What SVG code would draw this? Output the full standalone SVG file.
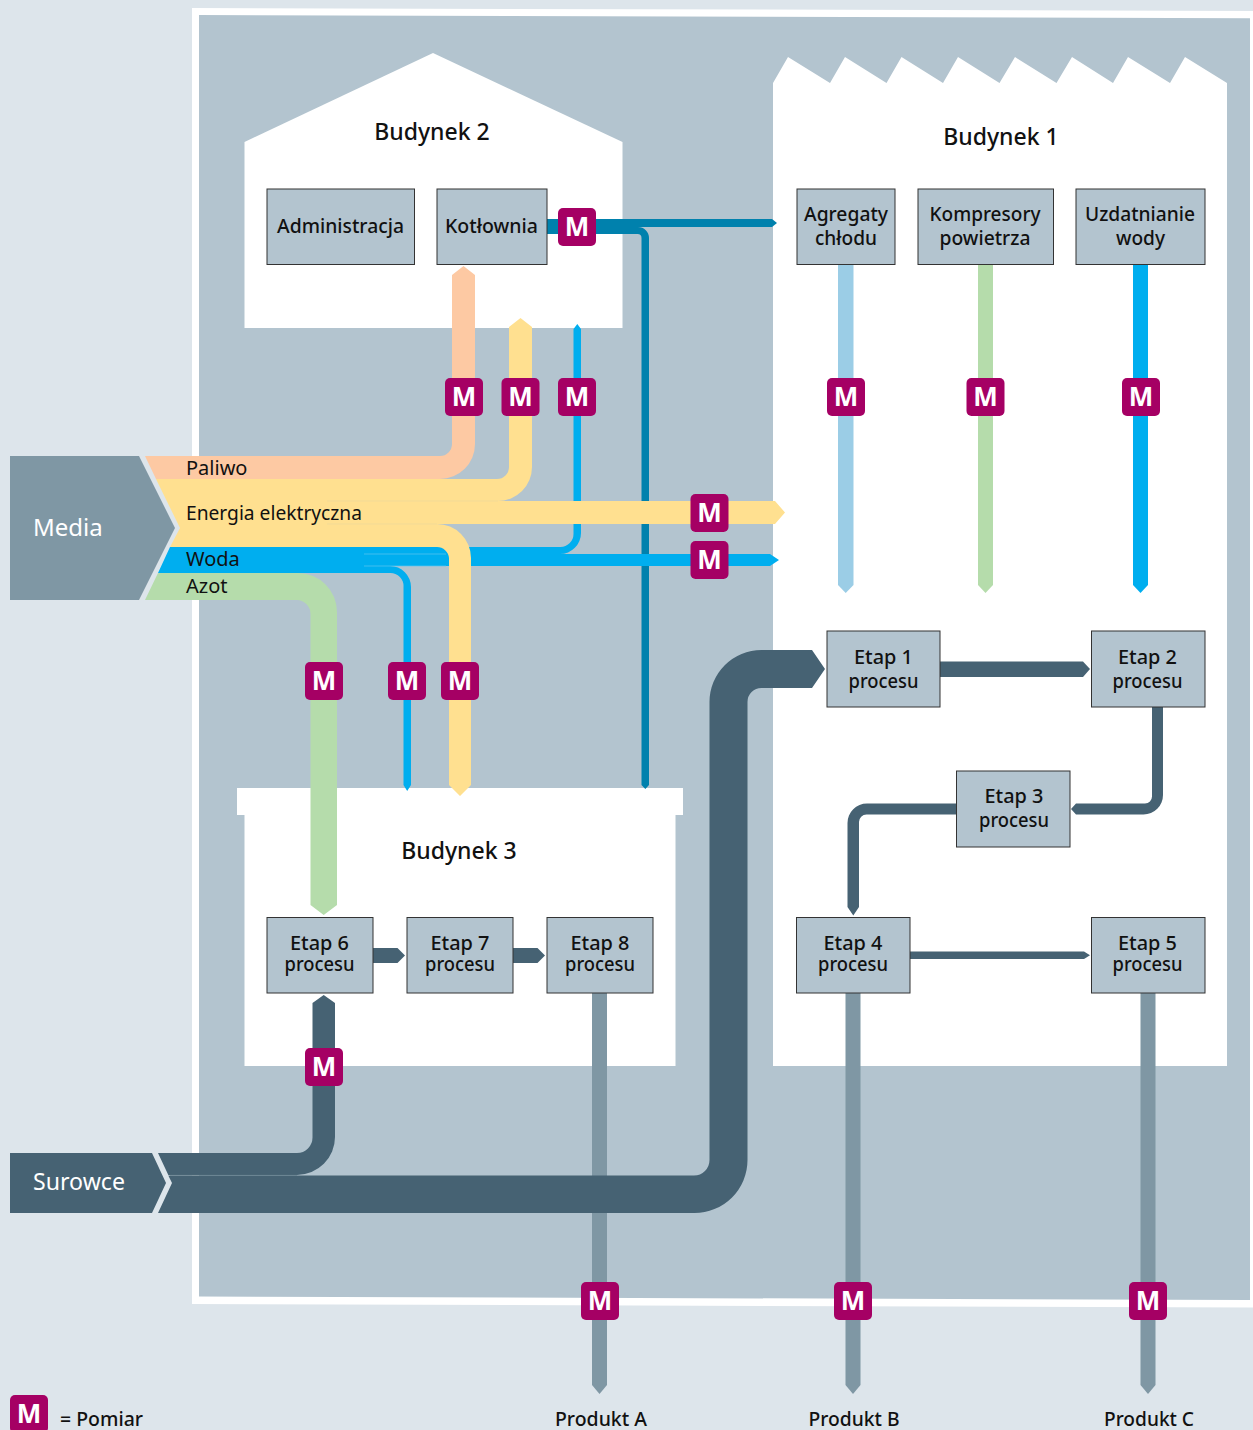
<svg xmlns="http://www.w3.org/2000/svg" width="1253" height="1430" viewBox="0 0 1253 1430">
<style>
text{font-family:"Noto Sans","Open Sans","Liberation Sans",sans-serif;fill:#111;text-anchor:middle}
.t{font-size:20px;font-weight:500}
.h{font-size:23px;font-weight:500}
.w{font-size:24px;fill:#fff;text-anchor:start}
.f{font-size:20px;text-anchor:start}
.p{font-size:19.500px;font-weight:500}
.box{fill:#b3c4cf;stroke:#333;stroke-width:1}
.bld{fill:#fff}
.bg{fill:#b3c4cf}
.m rect{fill:#a50064}
.m text{fill:#fff;font-size:26px;font-weight:700}
.dark{fill:#466273}.prod{fill:#7f97a4}.teal{fill:#0081ad}.blue{fill:#00aeef}.yel{fill:#ffe090}.pch{fill:#fdc9a3}.grn{fill:#b5dcab}.lb{fill:#9bcde6}
.seam{fill:none;stroke-width:.7}
</style>
<rect width="1253" height="1430" fill="#dde5eb"/>
<polygon points="192,8 1253,11 1253,1307.500 192,1304" fill="#fff"/>
<polygon class="bg" points="199,15 1250,18.300 1250,1300 199,1296.500"/>
<g id="buildings">
<polygon id="budynek-2-shape" class="bld" points="244.500,142 433,53 622.500,142 622.500,328 244.500,328"/>
<polygon id="budynek-1-shape" class="bld" points="773,83 788,57 830,83 845,57 886.500,83 901.500,57 943,83 958,57 999.500,83 1015,57 1056.500,83 1072,57 1113,83 1128,57 1170,83 1185,57 1227,83 1227,1066 773,1066"/>
<polygon id="budynek-3-shape" class="bld" points="237,788 683,788 683,815 675.500,815 675.500,1066 244.500,1066 244.500,815 237,815"/>
</g>
<g id="connectors">
<path class="prod" d="M592,993H607V1385L599.500,1394L592,1385Z"/>
<path class="prod" d="M845.500,993H860.500V1385L853,1394L845.500,1385Z"/>
<path class="prod" d="M1140.500,993H1155.500V1385L1148,1394L1140.500,1385Z"/>
<path class="teal" d="M547,219H772L777,223L772,227H638A11,11 0 0 1 649,238V785L645.300,789L641.500,785V238A4,4 0 0 0 637.500,234H547Z"/>
<path class="blue" d="M340,547H560A13,13 0 0 0 573.500,534V329L577.300,324L581,329V533A21,21 0 0 1 560,554H340Z"/>
<path class="blue" d="M340,566H390A21,21 0 0 1 411,587V785L407.200,791L403.500,785V587A13,13 0 0 0 390,573H340Z"/>
<path class="blue" d="M170,547H364V554H770L779,560L770,566H364V573H158Z"/>
<path class="seam" stroke="#5cc6f0" d="M364,554H446M364,566H446"/>
<path class="yel" d="M300,479H497A12,12 0 0 0 509,467V327L520.500,318L532,327V467A34,34 0 0 1 498,501H775L785,512.500L775,524H300Z"/>
<path class="yel" d="M156,479H330V547H170L180,528Z"/>
<path class="yel" d="M300,524H437A34,34 0 0 1 471,558V785L460,796L449,785V558A12,12 0 0 0 437,547H300Z"/>
<path class="seam" stroke="#ecd79c" d="M327,501H498M327,524H437"/>
<path class="pch" d="M145,456H440A12,12 0 0 0 452,444V275L463.500,266L475,275V444A35,35 0 0 1 440,479H156Z"/>
<path class="grn" d="M158,573H298A39,39 0 0 1 337,612V905L323.700,915L310.500,905V614A14,14 0 0 0 297,600H145Z"/>
<path class="lb" d="M838,264H853.500V585L845.700,593L838,585Z"/>
<path class="grn" d="M978,264H993V585L985.500,593L978,585Z"/>
<path class="blue" d="M1133,264H1148V585L1140.500,593L1133,585Z"/>
<path class="dark" d="M158,1153H297A15.500,15.500 0 0 0 312.500,1137.500V1003L323.700,995L335,1003V1137A38,38 0 0 1 297,1175H168.300Z"/>
<path class="dark" d="M168.300,1175.500H694A15.500,15.500 0 0 0 709.500,1160V702A52,52 0 0 1 761.500,650H812L825,669L812,688H761.500A14,14 0 0 0 747.500,702V1160A53,53 0 0 1 694,1213H158L172,1183Z"/>
<path class="seam" stroke="#5d7a8a" d="M170,1175.300H297"/>
<path class="dark" d="M940,661.500H1083L1090,669L1083,677H940Z"/>
<path class="dark" d="M1152,707H1163V795A19.500,19.500 0 0 1 1143.500,814.500H1076L1071,809L1076,803.500H1145A7,7 0 0 0 1152,796.500Z"/>
<path class="dark" d="M956,803.500H867A19.500,19.500 0 0 0 847.500,823V907L853.300,915.500L859,907V822A7.500,7.500 0 0 1 866.500,814.500H956Z"/>
<path class="dark" d="M910,951.500H1084L1090,955.200L1084,959H910Z"/>
<path class="dark" d="M373,948H397.500L405,955.500L397.500,963H373Z"/>
<path class="dark" d="M513,948H537.500L545,955.500L537.500,963H513Z"/>
</g>
<g id="media"><polygon points="10,456 139,456 175,528 139,600 10,600" fill="#7f97a4"/><text class="w" x="33" y="536">Media</text></g>
<g id="surowce"><polygon class="dark" points="10,1153 152,1153 166,1183 152,1213 10,1213"/><text class="w" x="33" y="1190" textLength="92" lengthAdjust="spacingAndGlyphs">Surowce</text></g>
<g id="flow-labels">
<text class="f" x="186" y="475">Paliwo</text>
<text class="f" x="186" y="520" textLength="176" lengthAdjust="spacingAndGlyphs">Energia elektryczna</text>
<text class="f" x="186" y="566">Woda</text>
<text class="f" x="186" y="593">Azot</text>
</g>
<g id="budynek-2"><text class="h" x="432" y="140">Budynek 2</text></g>
<g id="budynek-1"><text class="h" x="1001" y="145">Budynek 1</text></g>
<g id="budynek-3"><text class="h" x="459" y="859">Budynek 3</text></g>
<g id="administracja"><rect class="box" x="267" y="189" width="147.500" height="75.500"/><text class="t" x="340.500" y="233" textLength="127" lengthAdjust="spacingAndGlyphs">Administracja</text></g>
<g id="kotlownia"><rect class="box" x="437" y="189" width="110" height="75.500"/><text class="t" x="491.500" y="233" textLength="93" lengthAdjust="spacingAndGlyphs">Kotłownia</text></g>
<g id="agregaty"><rect class="box" x="797" y="189" width="98" height="75.500"/><text class="t" x="846" y="221" textLength="84" lengthAdjust="spacingAndGlyphs">Agregaty</text><text class="t" x="846" y="245" textLength="62" lengthAdjust="spacingAndGlyphs">chłodu</text></g>
<g id="kompresory"><rect class="box" x="918" y="189" width="135.500" height="75.500"/><text class="t" x="985" y="221" textLength="111" lengthAdjust="spacingAndGlyphs">Kompresory</text><text class="t" x="985" y="245" textLength="91" lengthAdjust="spacingAndGlyphs">powietrza</text></g>
<g id="uzdatnianie"><rect class="box" x="1076" y="189" width="129" height="75.500"/><text class="t" x="1140" y="221" textLength="110" lengthAdjust="spacingAndGlyphs">Uzdatnianie</text><text class="t" x="1140.500" y="245" textLength="49" lengthAdjust="spacingAndGlyphs">wody</text></g>
<g id="etap-1"><rect class="box" x="827" y="631" width="113" height="76"/><text class="t" x="883.500" y="664" textLength="59" lengthAdjust="spacingAndGlyphs">Etap 1</text><text class="t" x="883.500" y="688" textLength="70" lengthAdjust="spacingAndGlyphs">procesu</text></g>
<g id="etap-2"><rect class="box" x="1091.500" y="631" width="113.500" height="76"/><text class="t" x="1147.500" y="664" textLength="59" lengthAdjust="spacingAndGlyphs">Etap 2</text><text class="t" x="1147.500" y="688" textLength="70" lengthAdjust="spacingAndGlyphs">procesu</text></g>
<g id="etap-3"><rect class="box" x="956.500" y="771" width="113.500" height="76"/><text class="t" x="1014" y="803" textLength="59" lengthAdjust="spacingAndGlyphs">Etap 3</text><text class="t" x="1014" y="827" textLength="70" lengthAdjust="spacingAndGlyphs">procesu</text></g>
<g id="etap-4"><rect class="box" x="796.500" y="917.500" width="113.500" height="75.500"/><text class="t" x="853" y="950" textLength="59" lengthAdjust="spacingAndGlyphs">Etap 4</text><text class="t" x="853" y="971" textLength="70" lengthAdjust="spacingAndGlyphs">procesu</text></g>
<g id="etap-5"><rect class="box" x="1091.500" y="917.500" width="113.500" height="75.500"/><text class="t" x="1147.500" y="950" textLength="59" lengthAdjust="spacingAndGlyphs">Etap 5</text><text class="t" x="1147.500" y="971" textLength="70" lengthAdjust="spacingAndGlyphs">procesu</text></g>
<g id="etap-6"><rect class="box" x="267" y="917.500" width="106" height="75.500"/><text class="t" x="319.500" y="950" textLength="59" lengthAdjust="spacingAndGlyphs">Etap 6</text><text class="t" x="319.500" y="971" textLength="70" lengthAdjust="spacingAndGlyphs">procesu</text></g>
<g id="etap-7"><rect class="box" x="407" y="917.500" width="106" height="75.500"/><text class="t" x="460" y="950" textLength="59" lengthAdjust="spacingAndGlyphs">Etap 7</text><text class="t" x="460" y="971" textLength="70" lengthAdjust="spacingAndGlyphs">procesu</text></g>
<g id="etap-8"><rect class="box" x="547" y="917.500" width="106" height="75.500"/><text class="t" x="600" y="950" textLength="59" lengthAdjust="spacingAndGlyphs">Etap 8</text><text class="t" x="600" y="971" textLength="70" lengthAdjust="spacingAndGlyphs">procesu</text></g>
<g id="meters">
<g class="m" id="m1"><rect x="558" y="208" width="38" height="38" rx="5"/><text x="577" y="236">M</text></g>
<g class="m" id="m2"><rect x="445" y="378" width="38" height="38" rx="5"/><text x="464" y="406">M</text></g>
<g class="m" id="m3"><rect x="501.500" y="378" width="38" height="38" rx="5"/><text x="520.500" y="406">M</text></g>
<g class="m" id="m4"><rect x="558" y="378" width="38" height="38" rx="5"/><text x="577" y="406">M</text></g>
<g class="m" id="m5"><rect x="827" y="378" width="38" height="38" rx="5"/><text x="846" y="406">M</text></g>
<g class="m" id="m6"><rect x="966.500" y="378" width="38" height="38" rx="5"/><text x="985.500" y="406">M</text></g>
<g class="m" id="m7"><rect x="1122" y="378" width="38" height="38" rx="5"/><text x="1141" y="406">M</text></g>
<g class="m" id="m8"><rect x="690.500" y="494" width="38" height="38" rx="5"/><text x="709.500" y="522">M</text></g>
<g class="m" id="m9"><rect x="690.500" y="541" width="38" height="38" rx="5"/><text x="709.500" y="569">M</text></g>
<g class="m" id="m10"><rect x="305" y="662" width="38" height="38" rx="5"/><text x="324" y="690">M</text></g>
<g class="m" id="m11"><rect x="388" y="662" width="38" height="38" rx="5"/><text x="407" y="690">M</text></g>
<g class="m" id="m12"><rect x="441" y="662" width="38" height="38" rx="5"/><text x="460" y="690">M</text></g>
<g class="m" id="m13"><rect x="305" y="1048" width="38" height="38" rx="5"/><text x="324" y="1076">M</text></g>
<g class="m" id="m14"><rect x="581" y="1282" width="38" height="38" rx="5"/><text x="600" y="1310">M</text></g>
<g class="m" id="m15"><rect x="834" y="1282" width="38" height="38" rx="5"/><text x="853" y="1310">M</text></g>
<g class="m" id="m16"><rect x="1129" y="1282" width="38" height="38" rx="5"/><text x="1148" y="1310">M</text></g>
</g>
<g id="legend"><g class="m"><rect x="10" y="1395" width="38" height="38" rx="5"/><text x="29" y="1423">M</text></g><text class="p" x="101.500" y="1426" textLength="83" lengthAdjust="spacingAndGlyphs">= Pomiar</text></g>
<g id="products">
<text class="p" x="601" y="1426" textLength="92" lengthAdjust="spacingAndGlyphs">Produkt A</text>
<text class="p" x="854" y="1426" textLength="91" lengthAdjust="spacingAndGlyphs">Produkt B</text>
<text class="p" x="1149" y="1426" textLength="90" lengthAdjust="spacingAndGlyphs">Produkt C</text>
</g>
</svg>
